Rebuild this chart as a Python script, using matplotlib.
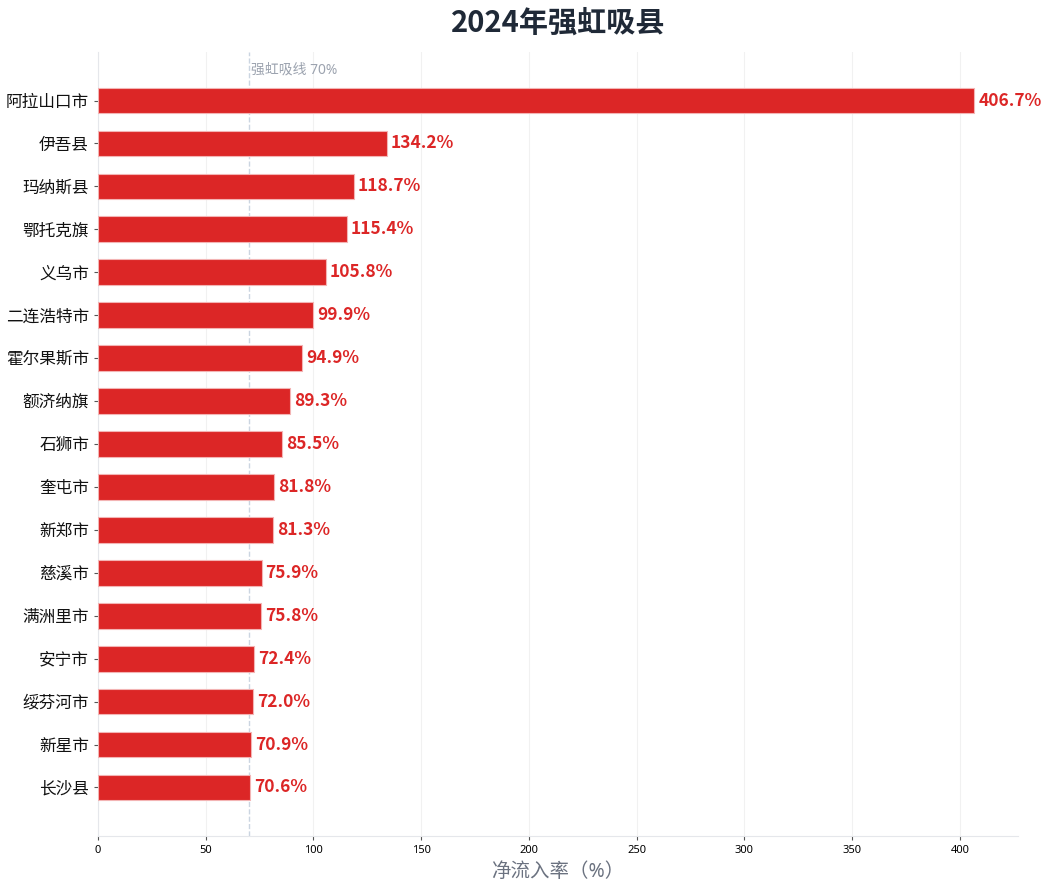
import matplotlib
matplotlib.use('Agg')
import matplotlib.pyplot as plt

plt.rcParams['font.family'] = ['Noto Sans', 'Noto Sans CJK SC', 'DejaVu Sans']
BOLD_FAMILY = ['Noto Sans CJK SC', 'DejaVu Sans']

# data, top to bottom as in the picture
counties = ['阿拉山口市', '伊吾县', '玛纳斯县', '鄂托克旗', '义乌市', '二连浩特市',
            '霍尔果斯市', '额济纳旗', '石狮市', '奎屯市', '新郑市', '慈溪市',
            '满洲里市', '安宁市', '绥芬河市', '新星市', '长沙县']
rates = [406.7, 134.2, 118.7, 115.4, 105.8, 99.9, 94.9, 89.3, 85.5, 81.8,
         81.3, 75.9, 75.8, 72.4, 72.0, 70.9, 70.6]
threshold = 70
x_ticks = [0, 50, 100, 150, 200, 250, 300, 350, 400]

RED = '#dc2626'

fig = plt.figure(figsize=(10.47, 8.88), dpi=100)
ax = fig.add_axes([0.0936, 0.0586, 0.8787, 0.8828])

y = list(range(len(counties)))
ax.barh(y, rates, height=0.6, color=RED, edgecolor='#f3b4b4', linewidth=0.8, zorder=3)
ax.invert_yaxis()

for yi, v in zip(y, rates):
    ax.text(v + 1.8, yi, f'{v:.1f}%', va='center', ha='left', family=BOLD_FAMILY,
            fontsize=12.5, fontweight='bold', color=RED, zorder=4)

# threshold line
ax.axvline(threshold, color='#cbd5e1', linestyle='--', linewidth=1, zorder=2)
ax.text(threshold + 0.8, -0.72, f'强虹吸线 {threshold}%', fontsize=10,
        color='#9ca3af', ha='left', va='center')

ax.set_xlim(0, 427)
ax.set_xticks(x_ticks)
ax.set_yticks(y)
ax.set_yticklabels(counties, fontsize=12, color='#111111')
ax.tick_params(axis='x', labelsize=8, length=3, color='#555555')
ax.tick_params(axis='y', length=3, color='#555555')

ax.grid(axis='x', color='#f1f1f1', linewidth=0.8, zorder=0)
ax.set_axisbelow(True)
for side in ['top', 'right']:
    ax.spines[side].set_visible(False)
for side in ['left', 'bottom']:
    ax.spines[side].set_color('#e5e7eb')

ax.set_xlabel('净流入率（%）', fontsize=14, color='#6b7280', labelpad=4)
ax.set_title('2024年强虹吸县', fontsize=21, fontweight='bold', family=BOLD_FAMILY,
             color='#1f2937', pad=15)

fig.savefig('out.png', dpi=100)
